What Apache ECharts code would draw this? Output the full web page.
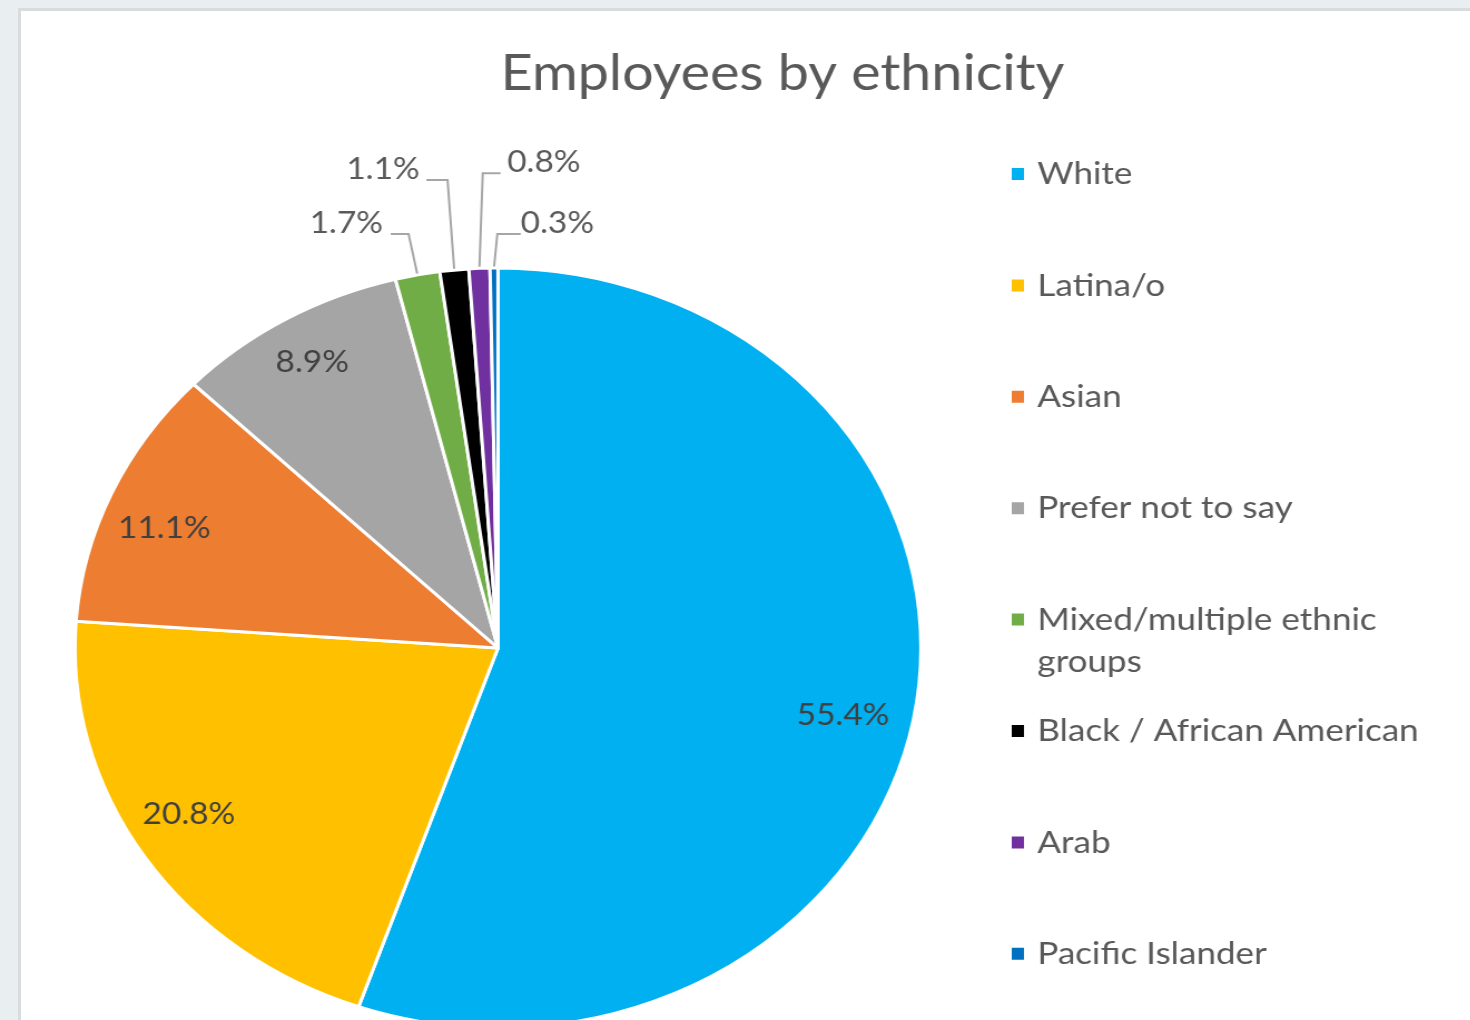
<!DOCTYPE html>
<html>
<head>
<meta charset="utf-8">
<title>Employees by ethnicity</title>
<script src="https://cdn.jsdelivr.net/npm/echarts@6/dist/echarts.min.js"></script>
<style>
  html, body { margin: 0; padding: 0; width: 1470px; height: 1020px; overflow: hidden; background: #e9eef1; }
  #frame { position: absolute; left: 18px; top: 8px; width: 1520px; height: 1100px; background: #ffffff; border: 3px solid #d9dcdf; box-sizing: border-box; }
  /* the chart is drawn in a narrower box and widened, giving the oval pie */
  #chart { position: absolute; left: 0; top: 0; width: 1321px; height: 1020px; transform: scaleX(1.113); transform-origin: 0 0; }
</style>
</head>
<body>
<div id="frame"></div>
<div id="chart"></div>
<script>
// ---- data ----
const categories = ['White', 'Latina/o', 'Asian', 'Prefer not to say', 'Mixed/multiple ethnic groups',
                    'Black / African American', 'Arab', 'Pacific Islander'];
const shares = [55.4, 20.8, 11.1, 8.9, 1.7, 1.1, 0.8, 0.3];   // percent of employees
const legendText = ['White', 'Latina/o', 'Asian', 'Prefer not to say', 'Mixed/multiple ethnic\ngroups',
                    'Black / African American', 'Arab', 'Pacific Islander'];
const sliceColors = ['#00b0f0', '#ffc000', '#ed7d31', '#a5a5a5', '#70ad47', '#000000', '#7030a0', '#0070c0'];

// ---- layout ----
const FONT = 'Lato';
const STRETCH = 1.113;
const CX = 447.4, CY = 648, R = 380;
const INNER_LABEL_RADIUS = 0.85;          // fraction of R for labels inside slices
const LEGEND_X = 907, LEGEND_Y0 = 174, LEGEND_STEP = 111.4;

// fine placement of the labels inside the big slices (screen px)
const innerNudge = { 0: [-15, 12], 1: [-4, -14], 2: [0, 14], 3: [-3, -2] };

// leader lines for the thin slices: rise above the rim, sideways bend, horizontal run
const guides = {
  4: { rise: 41, bend: -8, run: -16, gap: 7 },
  5: { rise: 90, bend: -6, run: -19, gap: 6 },
  6: { rise: 95, bend: 3,  run: 16,  gap: 6 },
  7: { rise: 34, bend: 3,  run: 21,  gap: 0 }
};

const pieData = categories.map((name, i) => {
  const outside = guides[i] !== undefined;
  return {
    name: name,
    value: shares[i],
    label: { position: outside ? 'outside' : 'inside', color: outside ? '#595959' : '#404040' },
    labelLine: { show: outside }
  };
});

const legends = categories.map((name, i) => {
  const twoLine = legendText[i].indexOf('\n') >= 0;
  const centerY = LEGEND_Y0 + LEGEND_STEP * i;
  // a two-line entry gets an empty lead line so its first line sits level with the swatch
  const shown = twoLine ? '\n' + legendText[i] : legendText[i];
  return {
    data: [name],
    orient: 'vertical',
    left: LEGEND_X,
    top: centerY - (twoLine ? 63 : 18),
    padding: 0,
    icon: 'rect',
    itemWidth: 13,
    itemHeight: 14,
    formatter: () => shown,
    textStyle: {
      fontFamily: FONT, fontSize: 31.5, color: '#595959',
      lineHeight: twoLine ? 42 : 36,
      padding: [0, 0, 0, 6]
    }
  };
});

const chart = echarts.init(document.getElementById('chart'), null, { renderer: 'canvas' });
chart.setOption({
  animation: false,
  color: sliceColors,
  title: {
    text: 'Employees by ethnicity',
    left: 698,
    top: 44,
    textAlign: 'center',
    textStyle: { fontFamily: FONT, fontSize: 50, fontWeight: 'normal', color: '#595959' }
  },
  legend: legends,
  series: [{
    type: 'pie',
    center: [CX, CY],
    radius: R,
    startAngle: 90,
    clockwise: true,
    avoidLabelOverlap: false,
    itemStyle: { borderColor: '#ffffff', borderWidth: 3 },
    emphasis: { scale: false },
    label: {
      fontFamily: FONT, fontSize: 30,
      formatter: p => p.value.toFixed(1) + '%'
    },
    labelLine: { lineStyle: { color: '#a6a6a6', width: 2 } },
    labelLayout: function (p) {
      const g = guides[p.dataIndex];
      if (g && p.labelLinePoints) {
        const e = p.labelLinePoints[0];
        const bx = e[0] + g.bend, by = e[1] - g.rise;
        const ex = bx + g.run;
        const toRight = g.run > 0;
        return {
          x: ex + (toRight ? g.gap : -g.gap),
          y: by - 11,
          align: toRight ? 'left' : 'right',
          verticalAlign: 'middle',
          labelLinePoints: [[e[0], e[1]], [bx, by], [ex, by]]
        };
      }
      // inside labels sit at half radius by default; move them out toward the rim
      const lx = p.labelRect.x + p.labelRect.width / 2;
      const ly = p.labelRect.y + p.labelRect.height / 2;
      const k = INNER_LABEL_RADIUS / 0.5;
      const n = innerNudge[p.dataIndex] || [0, 0];
      return {
        x: CX + (lx - CX) * k + n[0] / STRETCH,
        y: CY + (ly - CY) * k + n[1],
        align: 'center', verticalAlign: 'middle'
      };
    },
    data: pieData
  }]
});
</script>
</body>
</html>
